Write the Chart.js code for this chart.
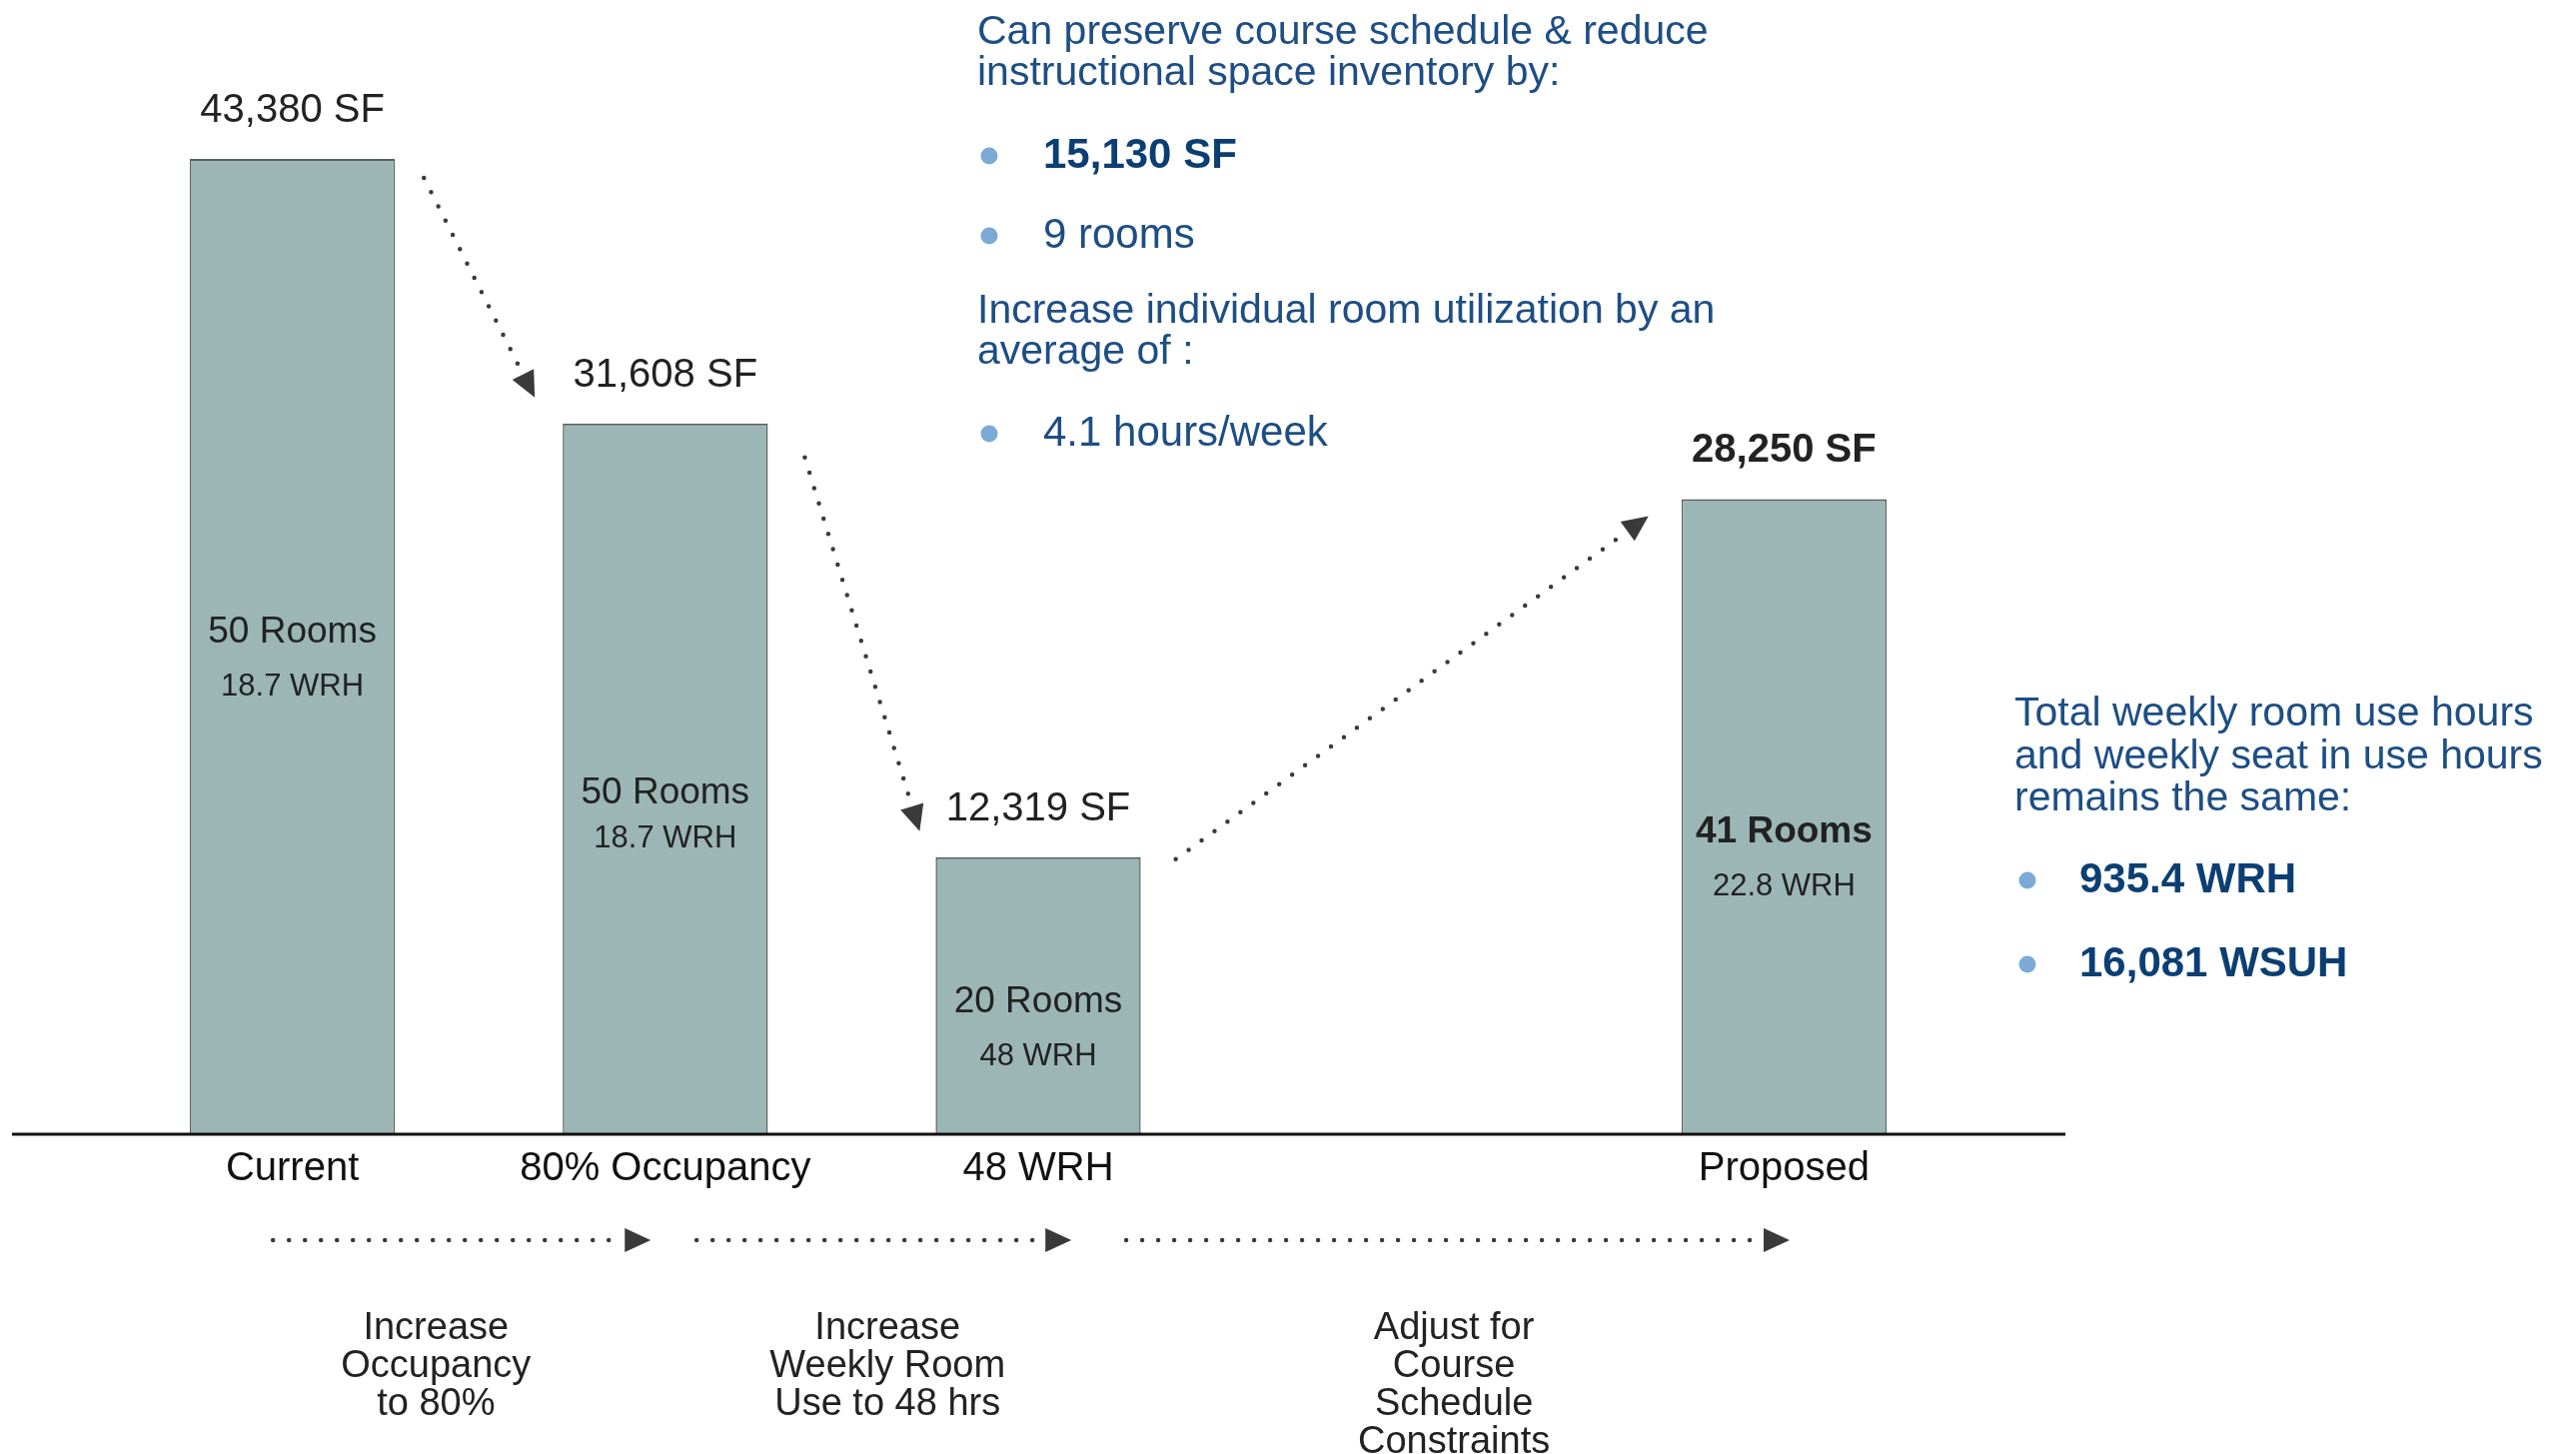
<!DOCTYPE html>
<html>
<head>
<meta charset="utf-8">
<title>Instructional space scenarios</title>
<script src="https://cdn.jsdelivr.net/npm/chart.js@4.4.0/dist/chart.umd.min.js"></script>
<style>
  html, body { margin: 0; padding: 0; background: #fff; }
  canvas { display: block; }
</style>
</head>
<body>
<canvas id="chart" width="2578" height="1455"></canvas>
<script>
// Data
const categories = ['Current', '80% Occupancy', '48 WRH', '', 'Proposed'];
const squareFeet = [43380, 31608, 12319, null, 28250];
const rooms = [50, 50, 20, null, 41];
const weeklyRoomHours = [18.7, 18.7, 48, null, 22.8];
const highlighted = [false, false, false, false, true];
const stepLabels = [
  ['Increase', 'Occupancy', 'to 80%'],
  ['Increase', 'Weekly Room', 'Use to 48 hrs'],
  ['Adjust for', 'Course', 'Schedule', 'Constraints']
];
const reduceIntro = ['Can preserve course schedule & reduce', 'instructional space inventory by:'];
const reduceItems = ['15,130 SF', '9 rooms'];
const utilIntro = ['Increase individual room utilization by an', 'average of :'];
const utilItems = ['4.1 hours/week'];
const totalsIntro = ['Total weekly room use hours', 'and weekly seat in use hours', 'remains the same:'];
const totalsItems = ['935.4 WRH', '16,081 WSUH'];

const FONT = '"Liberation Sans", Arial, Helvetica, sans-serif';
const INK = '#222';
const BLUE = '#1d4e85';
const NAVY = '#0b3f73';
const BULLET = '#7aaad5';
const ARROW = '#3a3a3a';

const fmt = v => v.toLocaleString('en-US');

function dottedArrow(ctx, x1, y1, x2, y2, gap) {
  const dx = x2 - x1, dy = y2 - y1;
  const len = Math.hypot(dx, dy);
  const ux = dx / len, uy = dy / len;
  const head = 26, half = 12;
  const ex = x2 - ux * (head + gap), ey = y2 - uy * (head + gap);
  ctx.save();
  ctx.strokeStyle = ARROW;
  ctx.lineWidth = 4.5;
  ctx.lineCap = 'round';
  ctx.setLineDash([0, 16]);
  ctx.beginPath();
  ctx.moveTo(x1, y1);
  ctx.lineTo(ex, ey);
  ctx.stroke();
  ctx.setLineDash([]);
  ctx.fillStyle = ARROW;
  const bx = x2 - ux * head, by = y2 - uy * head;
  ctx.beginPath();
  ctx.moveTo(x2, y2);
  ctx.lineTo(bx - uy * half, by + ux * half);
  ctx.lineTo(bx + uy * half, by - ux * half);
  ctx.closePath();
  ctx.fill();
  ctx.restore();
}

function textLines(ctx, lines, x, y, lh, font, color, align) {
  ctx.font = font;
  ctx.fillStyle = color;
  ctx.textAlign = align || 'left';
  ctx.textBaseline = 'middle';
  lines.forEach((t, i) => ctx.fillText(t, x, y + i * lh));
}

function bulletItem(ctx, text, bx, tx, y, font, color) {
  ctx.fillStyle = BULLET;
  ctx.beginPath();
  ctx.arc(bx, y, 8.5, 0, Math.PI * 2);
  ctx.fill();
  textLines(ctx, [text], tx, y, 0, font, color);
}

const annotations = {
  id: 'annotations',
  afterDatasetsDraw(chart) {
    const { ctx } = chart;
    const xs = chart.scales.x, ys = chart.scales.y;
    const bars = chart.getDatasetMeta(0).data;
    const y0 = ys.getPixelForValue(0);

    // baseline
    ctx.save();
    ctx.strokeStyle = '#111';
    ctx.lineWidth = 3;
    ctx.beginPath();
    ctx.moveTo(xs.left - 94, y0);
    ctx.lineTo(xs.right + 95, y0);
    ctx.stroke();

    // bar labels
    const roomOffset = [-14, 14, 6, 0, 16];
    const wrhGap = [54, 46, 55, 0, 54];
    squareFeet.forEach((v, i) => {
      if (v == null) return;
      const b = bars[i];
      const bold = highlighted[i] ? 'bold ' : '';
      textLines(ctx, [fmt(v) + ' SF'], b.x, b.y - 48, 0, bold + '40px ' + FONT, INK, 'center');
      const mid = (b.y + b.base) / 2 + roomOffset[i];
      textLines(ctx, [rooms[i] + ' Rooms'], b.x, mid, 0, bold + '37px ' + FONT, INK, 'center');
      textLines(ctx, [weeklyRoomHours[i] + ' WRH'], b.x, mid + wrhGap[i], 0, '31px ' + FONT, INK, 'center');
    });

    // diagonal arrows between bars
    const edge = b => ({ l: b.x - b.width / 2, r: b.x + b.width / 2, t: b.y });
    const e0 = edge(bars[0]), e1 = edge(bars[1]), e2 = edge(bars[2]), e4 = edge(bars[4]);
    dottedArrow(ctx, e0.r + 29, e0.t + 19, e1.l - 28, e1.t - 26, 6);
    dottedArrow(ctx, e1.r + 37, e1.t + 34, e2.l - 16, e2.t - 26, 6);
    dottedArrow(ctx, e2.r + 35, e2.t + 2, e4.l - 33, e4.t + 17, 6);

    // bottom step arrows and captions
    const ay = y0 + 106;
    const spans = [[-0.052, 0.961], [1.084, 2.089], [2.236, 4.015]];
    spans.forEach(([a, b]) => dottedArrow(ctx, xs.getPixelForValue(a), ay, xs.getPixelForValue(b), ay, 12));
    const captionAt = [0.385, 1.596, 3.115];
    stepLabels.forEach((lines, i) => {
      textLines(ctx, lines, xs.getPixelForValue(captionAt[i]), y0 + 195, 38, '38px ' + FONT, INK, 'center');
    });

    // callout text
    textLines(ctx, reduceIntro, 978, 33, 41, '41px ' + FONT, BLUE);
    bulletItem(ctx, reduceItems[0], 990, 1044, 156, 'bold 42px ' + FONT, NAVY);
    bulletItem(ctx, reduceItems[1], 990, 1044, 236, '42px ' + FONT, BLUE);
    textLines(ctx, utilIntro, 978, 312, 41, '41px ' + FONT, BLUE);
    bulletItem(ctx, utilItems[0], 990, 1044, 434, '42px ' + FONT, BLUE);

    textLines(ctx, totalsIntro, 2016, 715, 42.5, '41px ' + FONT, BLUE);
    bulletItem(ctx, totalsItems[0], 2029, 2081, 881, 'bold 42px ' + FONT, NAVY);
    bulletItem(ctx, totalsItems[1], 2029, 2081, 965, 'bold 42px ' + FONT, NAVY);
    ctx.restore();
  }
};

new Chart(document.getElementById('chart').getContext('2d'), {
  type: 'bar',
  data: {
    labels: categories,
    datasets: [{
      data: squareFeet,
      backgroundColor: '#9cb6b6',
      borderColor: '#56625f',
      borderWidth: { top: 2, left: 1.5, right: 1.5, bottom: 0 },
      borderSkipped: 'bottom',
      categoryPercentage: 1,
      barPercentage: 0.55
    }]
  },
  options: {
    responsive: false,
    animation: false,
    devicePixelRatio: 1,
    layout: { padding: { left: 106, right: 606, top: 10, bottom: 0 } },
    plugins: { legend: { display: false }, tooltip: { enabled: false } },
    scales: {
      x: {
        grid: { display: false, drawTicks: false },
        border: { display: false },
        ticks: { color: '#111', font: { family: FONT, size: 40 }, padding: 11, maxRotation: 0, autoSkip: false },
        afterFit: s => { s.height = 320; }
      },
      y: { display: false, min: 0, max: 50000 }
    }
  },
  plugins: [annotations]
});
</script>
</body>
</html>
